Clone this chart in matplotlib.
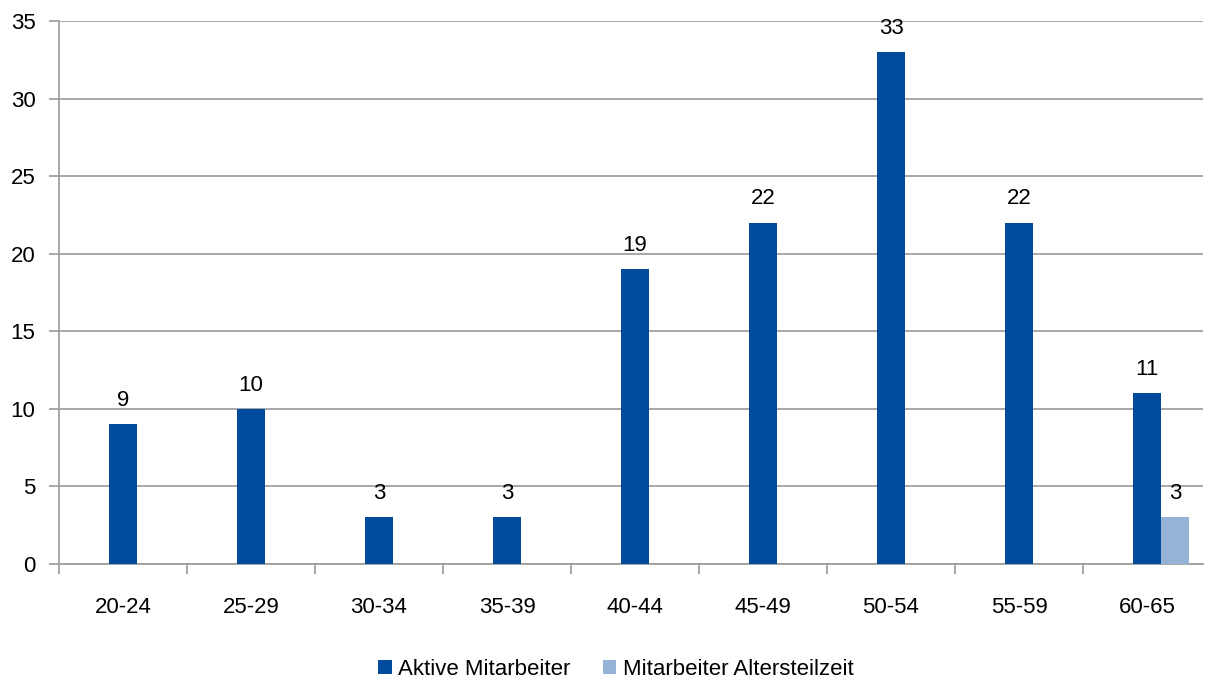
import numpy as np
import matplotlib
matplotlib.use("Agg")
import matplotlib.pyplot as plt

plt.rcParams['font.family'] = ['Liberation Sans', 'DejaVu Sans']

# Altersgruppen und Mitarbeiterzahlen
gruppen = ['20-24', '25-29', '30-34', '35-39', '40-44', '45-49', '50-54', '55-59', '60-65']
aktive = [9, 10, 3, 3, 19, 22, 33, 22, 11]
altersteilzeit = [0, 0, 0, 0, 0, 0, 0, 0, 3]

farbe_aktiv = '#004b9b'
farbe_atz = '#95b3d7'
grau = '#a0a0a0'

fig = plt.figure(figsize=(12.08, 6.86), dpi=100)
ax = fig.add_axes([59 / 1208, 1 - 564 / 686, 1144 / 1208, 543 / 686])

x = np.arange(len(gruppen))
w = 0.22
b1 = ax.bar(x, aktive, width=w, color=farbe_aktiv, label='Aktive Mitarbeiter', zorder=3)
b2 = ax.bar(x + w, altersteilzeit, width=w, color=farbe_atz, label='Mitarbeiter Altersteilzeit', zorder=3)

for bars, werte in ((b1, aktive), (b2, altersteilzeit)):
    for r, v in zip(bars, werte):
        if v > 0:
            ax.text(r.get_x() + r.get_width() / 2, v + 0.85, str(v), ha='center', va='bottom', fontsize=16)

ax.set_xlim(-0.5, 8.4375)
ax.set_ylim(0, 35)
ax.set_yticks(range(0, 36, 5))
ax.yaxis.grid(True, color=grau, linewidth=1.3, zorder=0)

ax.set_xticks(x)
ax.set_xticklabels(gruppen)
ax.set_xticks(np.arange(-0.5, len(gruppen) - 0.5), minor=True)
ax.tick_params(axis='x', which='major', length=0, pad=24, labelsize=16)
ax.tick_params(axis='x', which='minor', length=7, width=1.3, color=grau)
ax.tick_params(axis='y', length=7, width=1.3, color=grau, labelsize=16, pad=10)

for s in ('top', 'right'):
    ax.spines[s].set_visible(False)
for s in ('left', 'bottom'):
    ax.spines[s].set_color(grau)
    ax.spines[s].set_linewidth(1.3)

fig.legend(loc='lower center', bbox_to_anchor=(0.51, -0.02), ncol=2, frameon=False,
           fontsize=16, handlelength=0.6, handleheight=0.6, handletextpad=0.3, columnspacing=1.45)

fig.savefig('out.png', dpi=100)
